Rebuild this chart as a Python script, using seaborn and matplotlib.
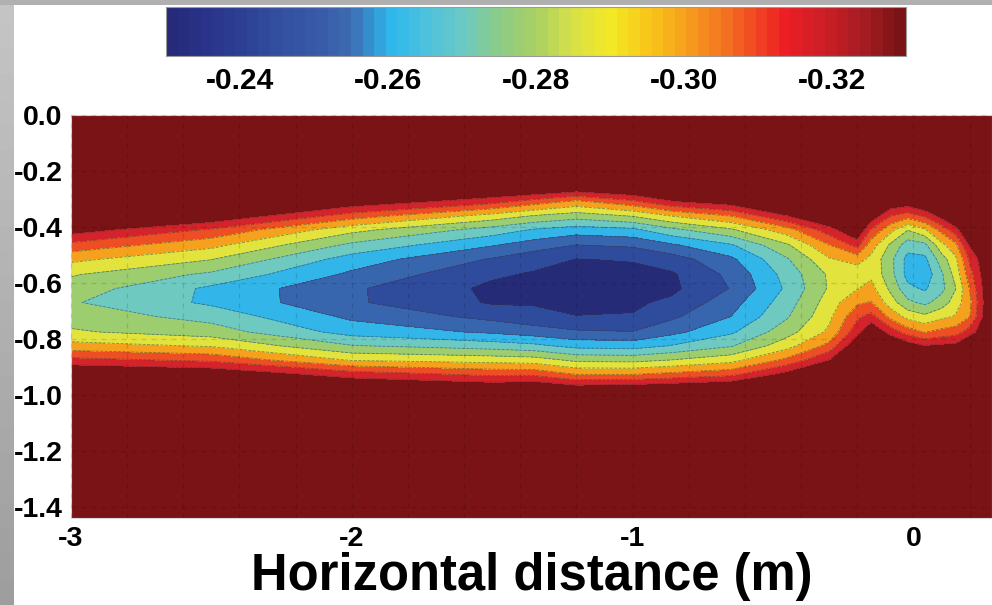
import numpy as np
import matplotlib
matplotlib.use("Agg")
import matplotlib.pyplot as plt
from matplotlib.colors import LinearSegmentedColormap
from matplotlib.patches import Rectangle
from matplotlib.ticker import MultipleLocator
import seaborn as sns

# value outside the plume (darkest red band)
BG = -0.345

# grid: x positions (m) and depths below surface (m)
x_cols = [-3.0, -2.5, -2.0, -1.5, -1.35, -1.2, -1.0, -0.86, -0.65, -0.45, -0.3, -0.2,
          -0.15, -0.08, -0.02, 0.04, 0.1, 0.15, 0.2, 0.28]
depth_rows = [0.0, 0.21, 0.26, 0.31, 0.36, 0.41, 0.465, 0.515, 0.57, 0.62,
              0.67, 0.72, 0.775, 0.825, 0.875, 0.925, 0.98, 1.03, 1.2, 1.44]

# one vertical profile per x column, top to bottom
z_m300 = [BG, BG, BG, BG, BG, -0.3356, -0.3169, -0.3026, -0.2909, -0.2856, -0.2810, -0.2858, -0.2912, -0.3037, -0.3229, -0.3430, BG, BG, BG, BG]
z_m250 = [BG, BG, BG, BG, -0.3404, -0.3189, -0.3029, -0.2905, -0.2780, -0.2680, -0.2682, -0.2762, -0.2849, -0.2991, -0.3178, -0.3388, BG, BG, BG, BG]
z_m200 = [BG, BG, BG, -0.3380, -0.3157, -0.2932, -0.2777, -0.2656, -0.2580, -0.2515, -0.2515, -0.2579, -0.2659, -0.2807, -0.2989, -0.3247, BG, BG, BG, BG]
z_m150 = [BG, BG, BG, -0.3239, -0.2964, -0.2758, -0.2608, -0.2492, -0.2415, -0.2380, -0.2390, -0.2470, -0.2584, -0.2752, -0.2958, -0.3171, -0.3408, BG, BG, BG]
z_m135 = [BG, BG, BG, -0.3153, -0.2896, -0.2691, -0.2551, -0.2434, -0.2390, -0.2375, -0.2390, -0.2433, -0.2548, -0.2725, -0.2944, -0.3171, -0.3435, BG, BG, BG]
z_m120 = [BG, BG, -0.3396, -0.3076, -0.2848, -0.2652, -0.2498, -0.2399, -0.2380, -0.2360, -0.2380, -0.2402, -0.2514, -0.2669, -0.2875, -0.3091, -0.3378, BG, BG, BG]
z_m100 = [BG, BG, BG, -0.3176, -0.2910, -0.2678, -0.2517, -0.2404, -0.2385, -0.2370, -0.2385, -0.2406, -0.2503, -0.2657, -0.2867, -0.3090, -0.3396, BG, BG, BG]
z_m086 = [BG, BG, BG, -0.3294, -0.3006, -0.2775, -0.2586, -0.2453, -0.2388, -0.2380, -0.2420, -0.2481, -0.2572, -0.2707, -0.2900, -0.3122, -0.3414, BG, BG, BG]
z_m065 = [BG, BG, BG, -0.3365, -0.3106, -0.2887, -0.2688, -0.2580, -0.2525, -0.2505, -0.2559, -0.2600, -0.2683, -0.2791, -0.2962, -0.3165, BG, BG, BG, BG]
z_m045 = [BG, BG, BG, BG, -0.3304, -0.3061, -0.2885, -0.2790, -0.2738, -0.2718, -0.2753, -0.2789, -0.2859, -0.2963, -0.3126, -0.3336, BG, BG, BG, BG]
z_m030 = [BG, BG, BG, BG, BG, -0.3261, -0.3098, -0.2990, -0.2915, -0.2912, -0.2948, -0.2977, -0.3020, -0.3133, -0.3302, BG, BG, BG, BG, BG]
z_m020 = [BG, BG, BG, BG, BG, -0.3428, -0.3236, -0.3043, -0.2930, -0.2996, -0.3085, -0.3181, -0.3268, -0.3408, BG, BG, BG, BG, BG, BG]
z_m015 = [BG, BG, BG, BG, -0.3384, -0.3191, -0.3049, -0.2972, -0.2979, -0.3033, -0.3108, -0.3237, -0.3412, BG, BG, BG, BG, BG, BG, BG]
z_m008 = [BG, BG, BG, -0.3400, -0.3204, -0.3031, -0.2880, -0.2826, -0.2832, -0.2875, -0.2945, -0.3069, -0.3255, BG, BG, BG, BG, BG, BG, BG]
z_m002 = [BG, BG, BG, -0.3380, -0.3150, -0.2906, -0.2745, -0.2665, -0.2664, -0.2727, -0.2824, -0.2966, -0.3155, -0.3364, BG, BG, BG, BG, BG, BG]
z_p004 = [BG, BG, BG, BG, -0.3220, -0.2986, -0.2771, -0.2674, -0.2633, -0.2686, -0.2776, -0.2923, -0.3093, -0.3308, BG, BG, BG, BG, BG, BG]
z_p010 = [BG, BG, BG, BG, -0.3348, -0.3138, -0.2969, -0.2853, -0.2782, -0.2771, -0.2846, -0.2974, -0.3133, -0.3324, BG, BG, BG, BG, BG, BG]
z_p015 = [BG, BG, BG, BG, BG, -0.3264, -0.3075, -0.2978, -0.2937, -0.2895, -0.2949, -0.3008, -0.3154, -0.3336, BG, BG, BG, BG, BG, BG]
z_p020 = [BG, BG, BG, BG, BG, BG, -0.3315, -0.3217, -0.3158, -0.3106, -0.3071, -0.3096, -0.3248, BG, BG, BG, BG, BG, BG, BG]
z_p028 = [BG, BG, BG, BG, BG, BG, BG, BG, BG, BG, BG, BG, BG, BG, BG, BG, BG, BG, BG, BG]

profiles = [z_m300, z_m250, z_m200, z_m150, z_m135, z_m120, z_m100, z_m086, z_m065,
            z_m045, z_m030, z_m020, z_m015, z_m008, z_m002, z_p004, z_p010, z_p015,
            z_p020, z_p028]

levels = [-0.40, -0.33, -0.32, -0.31, -0.30, -0.29, -0.28, -0.27, -0.26, -0.25, -0.24, -0.20]
band_colors = ["#7a1315", "#d4232a", "#ee4e24", "#f6a11d", "#e2e33c", "#9ccd6e",
               "#6ecac0", "#32b5e8", "#3765ae", "#2f4b9c", "#262b78"]

# colour bar anchors (value, colour)
cbar_vals = [-0.33, -0.325, -0.32, -0.314, -0.305, -0.30, -0.295, -0.29, -0.285, -0.28,
             -0.275, -0.27, -0.265, -0.26, -0.2545, -0.25, -0.245, -0.24, -0.235, -0.23]
cbar_cols = ["#7a1315", "#a41c22", "#c91f26", "#ed1f24", "#f47b20", "#f7a41c", "#f7c91a",
             "#f3ea26", "#d7e047", "#a9d063", "#8ccc86", "#6cc9c3", "#4cc2de", "#2eb7ec",
             "#3d6ab2", "#385aa8", "#3350a0", "#2d4094", "#29338a", "#262a78"]
cbar_ticks = [-0.24, -0.26, -0.28, -0.30, -0.32]
cbar_tick_labels = ["-0.24", "-0.26", "-0.28", "-0.30", "-0.32"]

x_ticks = [-3, -2, -1, 0]
x_tick_labels = ["-3", "-2", "-1", "0"]
y_ticks = [0.0, -0.2, -0.4, -0.6, -0.8, -1.0, -1.2, -1.4]
y_tick_labels = ["0.0", "-0.2", "-0.4", "-0.6", "-0.8", "-1.0", "-1.2", "-1.4"]

sns.set_theme(style="white")
plt.rcParams["font.family"] = ["Liberation Sans", "DejaVu Sans"]
plt.rcParams["font.weight"] = "bold"
plt.rcParams["axes.unicode_minus"] = False

W, H = 992, 605
fig = plt.figure(figsize=(W / 100, H / 100), dpi=100)
fig.patch.set_facecolor("white")

# grey frame on the left and top of the slide
for i, shade in enumerate(np.linspace(0.77, 0.62, 24)):
    fig.patches.append(Rectangle((0, 1 - (i + 1) / 24), 14 / W, 1 / 24 + 0.002,
                                 transform=fig.transFigure, facecolor=str(shade),
                                 edgecolor="none", zorder=-5))
fig.patches.append(Rectangle((0, 1 - 5 / H), 1, 5 / H, transform=fig.transFigure,
                             facecolor="#b0b0b0", edgecolor="none", zorder=-5))

ax = fig.add_axes([71 / W, 1 - 518 / H, 921 / W, 403 / H])
X, Y = np.meshgrid(x_cols, -np.array(depth_rows))
Z = np.column_stack(profiles)
ax.contourf(X, Y, Z, levels=levels, colors=band_colors)
ax.contour(X, Y, Z, levels=levels[1:-1], colors="#3a3a3a", linewidths=0.6, alpha=0.55)

ax.set_xlim(-3, 0.28)
ax.set_ylim(-1.44, 0)
ax.set_xticks(x_ticks)
ax.set_xticklabels(x_tick_labels)
ax.set_yticks(y_ticks)
ax.set_yticklabels(y_tick_labels)
ax.xaxis.set_minor_locator(MultipleLocator(0.2))
ax.tick_params(axis="both", which="both", length=0, labelsize=20.5, colors="black", pad=6)
ax.grid(True, which="both", color="black", alpha=0.13, linestyle=(0, (4, 4)), linewidth=0.9)
ax.set_axisbelow(False)
for s in ax.spines.values():
    s.set_edgecolor("#d8d8d8")
    s.set_linewidth(0.8)
ax.set_xlabel("Horizontal distance (m)", fontsize=36.5, fontweight="bold",
              color="black", labelpad=0)

cmap = LinearSegmentedColormap.from_list(
    "plume", [((v - cbar_vals[0]) / (cbar_vals[-1] - cbar_vals[0]), c)
              for v, c in zip(cbar_vals, cbar_cols)], N=64)
cax = fig.add_axes([166 / W, 1 - 56 / H, 740 / W, 49 / H])
sm = plt.cm.ScalarMappable(norm=plt.Normalize(cbar_vals[0], cbar_vals[-1]), cmap=cmap)
cb = fig.colorbar(sm, cax=cax, orientation="horizontal", ticks=cbar_ticks)
cb.ax.invert_xaxis()
cb.set_ticklabels(cbar_tick_labels)
cb.outline.set_edgecolor("#9a9a9a")
cb.outline.set_linewidth(0.8)
cax.tick_params(direction="in", length=4, width=0.8, color="#707070",
                labelsize=21.5, labelcolor="black", pad=8)

fig.savefig("out.png", dpi=100)
